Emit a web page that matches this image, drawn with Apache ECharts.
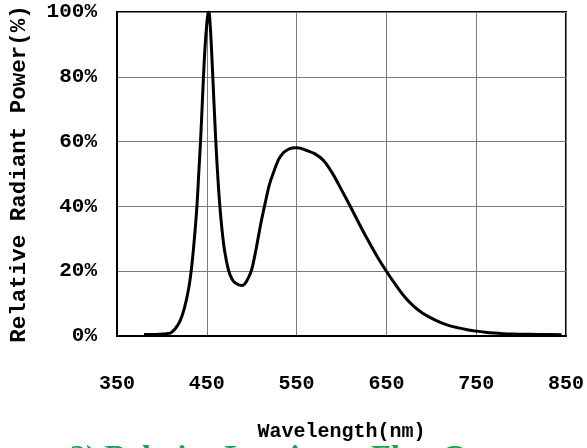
<!DOCTYPE html>
<html>
<head>
<meta charset="utf-8">
<script src="https://cdn.jsdelivr.net/npm/echarts@6/dist/echarts.min.js"></script>
<style>
html,body{margin:0;padding:0;background:#fff;}
#chart{width:587px;height:448px;}
</style>
</head>
<body>
<div id="chart"></div>
<script>
var wavelengths = [380,390,400,405,410,415,420,425,430,433,436,439,441,443,445,447,449,451,452,453,455,457,459,461,464,467,470,474,478,482,486,489,492,496,500,505,510,515,520,525,530,535,540,545,550,555,560,570,580,590,600,610,620,630,640,650,660,670,680,690,700,710,720,730,740,750,760,770,780,790,800,820,845];
var power = [0.5,0.5,0.6,0.7,1.0,2.3,4.5,8.5,15,21,29.5,40,50,60,72,84,93,99,100,99,90,78,66,55,42,32.6,26,20.5,17.6,16.3,15.8,15.6,16,17.8,20.5,27,34.5,41,47,51,54.5,56.5,57.5,58,58.1,57.9,57.4,56.3,54.2,50.2,45.1,39.9,34.5,29.3,24.4,20,15.9,12.2,9.3,7.1,5.5,4.2,3.2,2.5,1.95,1.5,1.15,0.9,0.72,0.6,0.52,0.5,0.4];
var xTicks = [350,450,550,650,750,850];
var yTicks = [0,20,40,60,80,100];
var xName = 'Wavelength(nm)';
var yName = 'Relative Radiant Power(%)';
var caption = '3) Relative Luminous Flux Current';

var seriesData = wavelengths.map(function(w,i){return [w,power[i]];});
var monoFont = 'Liberation Mono';
var chart = echarts.init(document.getElementById('chart'));
chart.setOption({
  animation:false,
  backgroundColor:'#fff',
  grid:{left:113,right:19,top:12,bottom:112,show:true,borderColor:'#000',borderWidth:2,containLabel:false},
  xAxis:{
    type:'value',min:xTicks[0],max:xTicks[xTicks.length-1],interval:100,
    name:xName,nameLocation:'middle',nameGap:86,
    nameTextStyle:{fontFamily:monoFont,fontWeight:'bold',fontSize:20,color:'#000'},
    axisLine:{show:true,lineStyle:{color:'#000',width:2}},
    axisTick:{show:false},
    axisLabel:{margin:38,fontFamily:monoFont,fontWeight:'bold',fontSize:20,color:'#000'},
    splitLine:{show:true,lineStyle:{color:'#7a7a7a',width:1}}
  },
  yAxis:{
    type:'value',min:yTicks[0],max:yTicks[yTicks.length-1],interval:20,
    name:yName,nameLocation:'middle',nameGap:86,nameRotate:90,
    nameTextStyle:{fontFamily:monoFont,fontWeight:'bold',fontSize:22.5,color:'#000'},
    axisLine:{show:true,lineStyle:{color:'#000',width:2}},
    axisTick:{show:false},
    axisLabel:{margin:20,fontFamily:monoFont,fontWeight:'bold',fontSize:21,color:'#000',formatter:'{value}%'},
    splitLine:{show:true,lineStyle:{color:'#7a7a7a',width:1}}
  },
  graphic:[{
    type:'text',left:70,top:443,
    style:{text:caption,font:'bold 32px "Liberation Serif"',fill:'#1aa34a'}
  }],
  series:[{
    type:'line',data:seriesData,smooth:0.35,symbol:'none',
    lineStyle:{color:'#000',width:3}
  }]
});
</script>
</body>
</html>
